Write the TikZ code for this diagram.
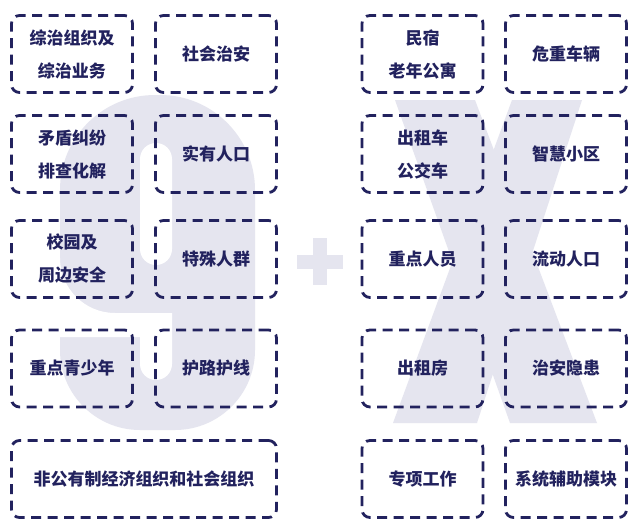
\documentclass[tikz,border=0pt]{standalone}
\usepackage{fontspec}
\newfontfamily\cjk{Noto Sans CJK SC}
\usepackage{tikz}
\definecolor{navy}{RGB}{34,34,94}
\definecolor{ghost}{RGB}{229,229,239}
\tikzstyle{gbox} = [draw=navy,line width=2.8pt,dash pattern=on 10pt off 6.5pt,rounded corners=8pt,
    minimum width=121pt,minimum height=77pt,align=center,text=navy,
    font=\cjk\bfseries\fontsize{17}{33}\selectfont
]
\tikzstyle{wbox} = [gbox,minimum width=265pt]
\tikzstyle{ghostfill} = [fill=ghost]
\newcommand{\gridbox}[4]{
	\node(#1) at (#2,#3) [gbox] {#4};
}

\begin{document}
\begin{tikzpicture}[x=1pt,y=-1pt]
	\useasboundingbox[fill=white] (0,0) rectangle (640,531);

	% the big 9
	\fill[ghostfill] (60,258) [rounded corners=95pt] -- (60,95) -- (255,95) [rounded corners=80pt] -- (255,430) -- (60,430) [sharp corners] -- cycle;
	\fill[white, rounded corners=16pt] (140,143) rectangle (172,265);
	\fill[white] (59,258) -- (59,337) -- (140,337) -- (140,364) arc[start angle=180,end angle=0,radius=16] -- (172,313) -- (115,313) arc[start angle=90,end angle=180,radius=55] -- cycle;

	% plus
	\fill[ghostfill] (297,255) rectangle (343,269);
	\fill[ghostfill] (313,238) rectangle (327,285);

	% the big X
	\fill[ghostfill] (395,100) -- (475,100) -- (597,423) -- (510,423) -- cycle;
	\fill[ghostfill] (512,100) -- (582,100) -- (477,423) -- (393,423) -- cycle;

	\gridbox{zzzz}{72}{54}{综治组织及\\综治业务};
	\gridbox{shza}{216}{54}{社会治安};
	\gridbox{mdjf}{72}{154}{矛盾纠纷\\排查化解};
	\gridbox{syrk}{216}{154}{实有人口};
	\gridbox{xyaq}{72}{259}{校园及\\周边安全};
	\gridbox{tsrq}{216}{259}{特殊人群};
	\gridbox{zdqs}{72}{368.5}{重点青少年};
	\gridbox{hlhx}{216}{368.5}{护路护线};
	\node(fgzz) at (144,479) [wbox] {非公有制经济组织和社会组织};

	\gridbox{msgy}{422.5}{54}{民宿\\老年公寓};
	\gridbox{wzcl}{566}{54}{危重车辆};
	\gridbox{czgj}{422.5}{154}{出租车\\公交车};
	\gridbox{zhxq}{566}{154}{智慧小区};
	\gridbox{zdry}{422.5}{259}{重点人员};
	\gridbox{ldrk}{566}{259}{流动人口};
	\gridbox{czf}{422.5}{368.5}{出租房};
	\gridbox{zayh}{566}{368.5}{治安隐患};
	\gridbox{zxgz}{422.5}{479}{专项工作};
	\gridbox{xtfz}{566}{479}{系统辅助模块};
\end{tikzpicture}
\end{document}
